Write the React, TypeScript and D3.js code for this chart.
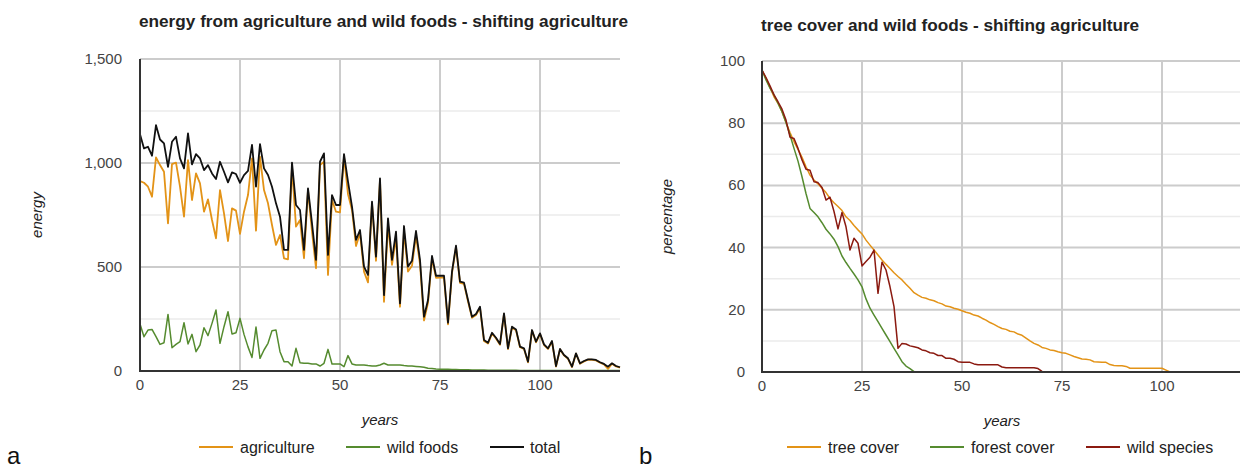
import * as d3 from 'd3'

// years 0..120
const years: number[] = d3.range(0, 121)

const agriculture = [
  913, 905, 886, 838, 1027, 990, 958, 710, 995, 1002, 886, 742, 1014, 822, 950, 902, 766, 825, 726, 638, 870,
  758, 625, 782, 771, 659, 766, 846, 1022, 675, 1030, 870, 806, 702, 606, 654, 542, 537, 980, 694, 726,
  542, 870, 670, 494, 990, 1006, 462, 822, 766, 763, 1030, 850, 774, 601, 662, 478, 426, 806, 530, 918,
  333, 705, 510, 641, 309, 671, 478, 506, 651, 514, 243, 328, 541, 448, 449, 450, 224, 471, 596, 424,
  419, 335, 256, 269, 304, 144, 132, 180, 156, 126, 273, 105, 209, 196, 114, 106, 42, 194, 138, 178,
  125, 106, 141, 21, 104, 75, 59, 19, 83, 35, 46, 54, 54, 51, 40, 32, 10, 35, 22, 16,
]

const wildFoods = [
  226, 165, 197, 200, 165, 128, 136, 272, 112, 128, 141, 232, 130, 176, 93, 125, 208, 170, 229, 293, 133,
  213, 285, 178, 184, 253, 176, 116, 65, 211, 61, 101, 133, 194, 197, 93, 45, 45, 24, 109, 40,
  37, 37, 34, 34, 24, 37, 104, 34, 34, 34, 21, 74, 34, 29, 29, 29, 26, 24, 24, 29,
  37, 29, 29, 29, 29, 26, 24, 24, 22, 20, 18, 13, 12, 10, 9, 8, 8, 7, 7, 6,
  6, 6, 5, 5, 5, 5, 4, 4, 4, 4, 4, 4, 4, 4, 3, 3, 3, 3, 3, 3,
  3, 3, 3, 3, 2, 2, 2, 2, 2, 2, 2, 2, 2, 2, 2, 2, 2, 2, 2, 2,
]

const total = [
  1138, 1070, 1078, 1035, 1182, 1113, 1094, 982, 1102, 1126, 1022, 974, 1142, 993, 1043, 1022, 966, 990, 950, 923, 1006,
  958, 907, 955, 947, 905, 942, 962, 1087, 886, 1091, 974, 942, 886, 806, 742, 582, 582, 1002, 798, 774,
  582, 878, 710, 534, 1006, 1046, 558, 846, 798, 798, 1043, 910, 790, 630, 678, 502, 462, 814, 550, 926,
  365, 734, 534, 670, 325, 697, 502, 530, 673, 534, 261, 341, 553, 458, 458, 458, 232, 478, 603, 430,
  425, 341, 261, 274, 309, 149, 136, 184, 160, 130, 277, 109, 213, 200, 117, 109, 45, 197, 141, 181,
  128, 109, 144, 24, 106, 77, 61, 21, 85, 37, 48, 56, 56, 53, 42, 34, 21, 37, 24, 18,
]

const treeCover = [
  97, 94.4, 91.5, 88.5, 86.4, 83.7, 80.2, 77, 74.1, 71.6, 69, 66, 63.3, 61.7, 60.5, 59.1, 57.7, 55.8, 54.4, 53.2,
  51.9, 49.9, 48.7, 47.1, 45.7, 44.4, 42.4, 40.8, 39.2, 37.6, 36, 34.6, 33.3, 31.9, 30.7, 29.6, 28.2, 26.9, 25.5, 24.7,
  24, 23.7, 23.2, 22.9, 22.3, 21.9, 21.2, 21, 20.5, 20.2, 19.7, 19.2, 18.9, 18.3, 18, 17.3, 16.7, 15.9, 15.3, 14.6,
  14, 13.7, 13.1, 12.9, 12.2, 11.8, 10.9, 10, 9.2, 8.7, 7.9, 7.6, 7.1, 6.9, 6.5, 6.2, 6, 5.5, 5, 4.6,
  4.2, 4.1, 3.9, 3.3, 3.2, 3.1, 3.1, 2.4, 2.1, 2, 2, 1.8, 1.2, 1.2, 1.2, 1.2, 1.2, 1.2, 1.2, 1.2,
  1.2, 0.6, 0, 0, 0, 0, 0, 0, 0, 0, 0, 0, 0, 0, 0, 0, 0, 0, 0, 0, 0,
]

const forestCover = [
  97.1, 93.9, 91.3, 89.1, 86.4, 83.7, 80.2, 76.2, 71.9, 67.8, 62.8, 57.4, 52.6, 51.3, 49.9, 48, 45.9, 44.4, 42.7, 40.3,
  37.3, 35.2, 33.3, 31.5, 29.6, 27.4, 23.5, 20.5, 18.3, 16.2, 14, 11.9, 9.8, 7.6, 5.5, 3.3, 1.9, 1.1, 0.1, 0,
  0, 0, 0, 0, 0, 0, 0, 0, 0, 0, 0, 0, 0, 0, 0, 0, 0, 0, 0, 0,
  0, 0, 0, 0, 0, 0, 0, 0, 0, 0, 0, 0, 0, 0, 0, 0, 0, 0, 0, 0,
  0, 0, 0, 0, 0, 0, 0, 0, 0, 0, 0, 0, 0, 0, 0, 0, 0, 0, 0, 0,
  0, 0, 0, 0, 0, 0, 0, 0, 0, 0, 0, 0, 0, 0, 0, 0, 0, 0, 0, 0, 0,
]

const wildSpecies = [
  97.1, 94.7, 92, 89.1, 86.9, 84.5, 81, 75.5, 75.1, 71.9, 68.2, 65.2, 64.9, 61.2, 60.9, 59.3, 55.3, 56.2, 51.6, 46,
  51.3, 46.7, 39.2, 43, 41.4, 34.1, 35.5, 36.9, 39.2, 25.3, 35.3, 32.8, 27.4, 21, 7.6, 9.2, 9, 8.4, 8.1, 7.8,
  7.1, 6.8, 6.2, 6, 5.3, 5.3, 4.4, 4.4, 4.1, 3.3, 3.1, 3.1, 3.1, 2.6, 2.3, 2.3, 2.3, 2.3, 2.3, 2.3,
  1.6, 1.4, 1.4, 1.4, 1.4, 1.4, 1.4, 1.4, 1.4, 1.1, 0.2, 0, 0, 0, 0, 0, 0, 0, 0, 0,
  0, 0, 0, 0, 0, 0, 0, 0, 0, 0, 0, 0, 0, 0, 0, 0, 0, 0, 0, 0,
  0, 0, 0, 0, 0, 0, 0, 0, 0, 0, 0, 0, 0, 0, 0, 0, 0, 0, 0, 0, 0,
]

const xTicks = [0, 25, 50, 75, 100]
const energyTicks = [0, 500, 1000, 1500]
const energyMinor = [250, 750, 1250]
const pctTicks = [0, 20, 40, 60, 80, 100]
const pctMinor = [10, 30, 50, 70, 90]

const ORANGE = '#e39317'
const GREEN = '#558b2f'
const RED = '#8b1a10'
const FONT = '"Liberation Sans", Arial, sans-serif'

type Series = { name: string; values: number[]; color: string; width: number }
type LegendItem = { name: string; color: string; lineX: number; textX: number }

function Panel({
  title, titleY, yLabel, yLabelX, left, right, top, bottom, yMax, ticks, minor, fmt, series, legend, tickRight, letter, letterX,
}: {
  title: string; titleY: number; yLabel: string; yLabelX: number; left: number; right: number; top: number; bottom: number
  yMax: number; ticks: number[]; minor: number[]; fmt: (v: number) => string; series: Series[]; legend: LegendItem[]
  tickRight: number; letter: string; letterX: number
}) {
  const x = d3.scaleLinear().domain([0, 120]).range([left, right])
  const y = d3.scaleLinear().domain([0, yMax]).range([bottom, top])
  const line = (vals: number[]) =>
    d3.line<number>().x((_, i) => x(years[i])).y((v) => y(v))(vals) || ''

  return (
    <g fontFamily={FONT}>
      <text x={left - 1} y={titleY} fontSize={17.2} fontWeight="bold" fill="#222">{title}</text>
      {minor.map((v) => (
        <line key={'m' + v} x1={left} x2={right} y1={y(v)} y2={y(v)} stroke="#ebebeb" strokeWidth={1.5} />
      ))}
      {ticks.filter((v) => v > 0).map((v) => (
        <line key={'g' + v} x1={left} x2={right} y1={y(v)} y2={y(v)} stroke="#cccccc" strokeWidth={2} />
      ))}
      {xTicks.filter((v) => v > 0).map((v) => (
        <line key={'v' + v} x1={x(v)} x2={x(v)} y1={top} y2={bottom} stroke="#cccccc" strokeWidth={2} />
      ))}
      {ticks.map((v) => (
        <text key={'t' + v} x={tickRight} y={y(v) + 5} textAnchor="end" fontSize={15} fill="#444">{fmt(v)}</text>
      ))}
      {xTicks.map((v) => (
        <text key={'x' + v} x={x(v)} y={bottom + 19} textAnchor="middle" fontSize={15} fill="#444">{v}</text>
      ))}
      {series.map((s) => (
        <path key={s.name} d={line(s.values)} fill="none" stroke={s.color} strokeWidth={s.width} strokeLinejoin="round" />
      ))}
      <line x1={left} x2={left} y1={top} y2={bottom + 1} stroke="#333" strokeWidth={2} />
      <line x1={left - 1} x2={right} y1={bottom} y2={bottom} stroke="#333" strokeWidth={2} />
      <text x={(left + right) / 2} y={bottom + 54} textAnchor="middle" fontSize={15} fontStyle="italic" fill="#222">years</text>
      <text transform={`translate(${yLabelX},${(top + bottom) / 2}) rotate(-90)`} textAnchor="middle" fontSize={15} fontStyle="italic" fill="#222">
        {yLabel}
      </text>
      {legend.map((l) => (
        <g key={l.name}>
          <line x1={l.lineX} x2={l.lineX + 34} y1={447} y2={447} stroke={l.color} strokeWidth={2} />
          <text x={l.textX} y={453} fontSize={16} fill="#222">{l.name}</text>
        </g>
      ))}
      <text x={letterX} y={464} fontSize={24} fill="#111">{letter}</text>
    </g>
  )
}

export default function App() {
  return (
    <svg width={1240} height={471} style={{ position: 'absolute', left: 0, top: 0, background: '#fff' }}>
      <Panel
        title="energy from agriculture and wild foods - shifting agriculture"
        titleY={27}
        yLabel="energy"
        yLabelX={42}
        left={140}
        right={620}
        top={59}
        bottom={371}
        yMax={1500}
        ticks={energyTicks}
        minor={energyMinor}
        fmt={d3.format(',')}
        tickRight={122}
        series={[
          { name: 'agriculture', values: agriculture, color: ORANGE, width: 1.8 },
          { name: 'wild foods', values: wildFoods, color: GREEN, width: 1.5 },
          { name: 'total', values: total, color: '#111', width: 1.8 },
        ]}
        legend={[
          { name: 'agriculture', color: ORANGE, lineX: 199, textX: 240 },
          { name: 'wild foods', color: GREEN, lineX: 346, textX: 387 },
          { name: 'total', color: '#111', lineX: 490, textX: 530 },
        ]}
        letter="a"
        letterX={7}
      />
      <Panel
        title="tree cover and wild foods - shifting agriculture"
        titleY={31}
        yLabel="percentage"
        yLabelX={672}
        left={762}
        right={1242}
        top={61}
        bottom={372}
        yMax={100}
        ticks={pctTicks}
        minor={pctMinor}
        fmt={(v) => String(v)}
        tickRight={745}
        series={[
          { name: 'tree cover', values: treeCover, color: ORANGE, width: 1.5 },
          { name: 'forest cover', values: forestCover, color: GREEN, width: 1.5 },
          { name: 'wild species', values: wildSpecies, color: RED, width: 1.5 },
        ]}
        legend={[
          { name: 'tree cover', color: ORANGE, lineX: 787, textX: 828 },
          { name: 'forest cover', color: GREEN, lineX: 930, textX: 971 },
          { name: 'wild species', color: RED, lineX: 1086, textX: 1127 },
        ]}
        letter="b"
        letterX={639}
      />
    </svg>
  )
}
